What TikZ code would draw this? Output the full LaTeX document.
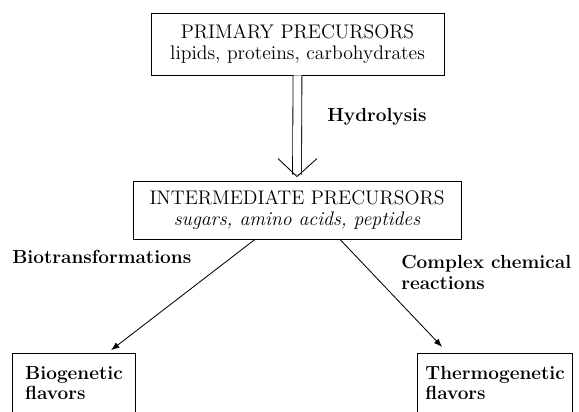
\documentclass[tikz,border=0pt]{standalone}
\usepackage{tikz}
\usetikzlibrary{arrows.meta,positioning}

\tikzset{
  stage/.style={draw,line width=.6pt,align=center,font=\fontsize{14}{15.5}\selectfont},
  product/.style={draw,line width=.6pt,align=left,anchor=north west,inner xsep=.32cm,
    inner ysep=9pt,text depth=2cm,font=\bfseries\fontsize{13.5}{14.5}\selectfont},
  route/.style={font=\bfseries\fontsize{13.5}{15}\selectfont,align=left,inner sep=0pt}
}

\begin{document}
\begin{tikzpicture}[x=.025cm,y=-.025cm]
\useasboundingbox (0,0) rectangle (579,412);
\clip (0,0) rectangle (579,412);
\node[stage,minimum width=7.325cm,minimum height=1.55cm] (prim) at (297.5,44)
  {PRIMARY PRECURSORS\\lipids, proteins, carbohydrates};
\node[stage,minimum width=8.2cm,minimum height=1.45cm] (inter) at (297,210)
  {INTERMEDIATE PRECURSORS\\\itshape sugars, amino acids, peptides};
\node[product,minimum width=2.95cm] (bio) at (12,353) {Biogenetic\\flavors};
\node[product,inner xsep=.2cm] (thermo) at (417,353) {Thermogenetic\\flavors};
\draw[double,line width=.6pt,double distance=.2cm] (prim.south) -- ([yshift=.15cm]inter.north);
\draw[line width=.6pt] ([yshift=.1cm]inter.north) -- ++(-19,-18)
  ([yshift=.1cm]inter.north) -- ++(20,-18);
\draw[line width=.6pt,-{Latex[length=6pt,width=4.5pt]}] ([xshift=-1.05cm]inter.south)
  -- ([xshift=.925cm,yshift=.07cm]bio.north);
\draw[line width=.6pt,-{Latex[length=6pt,width=4.5pt]}] ([xshift=1.075cm]inter.south)
  -- ([xshift=-1.325cm,yshift=.15cm]thermo.north);
\node[route,anchor=west] (hyd) at (327,117) {Hydrolysis};
\node[route,anchor=west] (biot) at (12,257) {Biotransformations};
\node[route,anchor=north west] (chem) at (401,255) {Complex chemical\\reactions};
\end{tikzpicture}
\end{document}
